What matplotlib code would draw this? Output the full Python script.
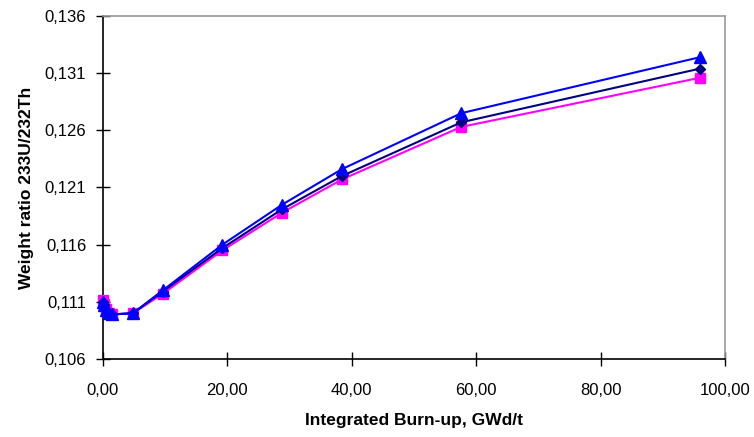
import numpy as np
import matplotlib
matplotlib.use("Agg")
import matplotlib.pyplot as plt
from matplotlib.ticker import FuncFormatter

# burn-up points, GWd/t
burnup = [0.0, 0.2, 0.5, 1.0, 1.5, 4.8, 9.6, 19.2, 28.8, 38.4, 57.6, 96.0]

# weight ratio 233U/232Th for the three cases
ratio_magenta = [0.1112, 0.1108, 0.1104, 0.1100, 0.1099, 0.1100, 0.1117, 0.1155, 0.1188, 0.1217, 0.1263, 0.1306]
ratio_navy    = [0.1110, 0.1107, 0.1103, 0.1100, 0.1099, 0.1100, 0.1119, 0.1157, 0.1191, 0.1220, 0.1267, 0.1314]
ratio_blue    = [0.1110, 0.1107, 0.1103, 0.1100, 0.1099, 0.1100, 0.1120, 0.1160, 0.1195, 0.1226, 0.1275, 0.1324]

xticks = [0, 20, 40, 60, 80, 100]
yticks = [0.106, 0.111, 0.116, 0.121, 0.126, 0.131, 0.136]

plt.rcParams['font.family'] = ['Liberation Sans', 'DejaVu Sans']

fig = plt.figure(figsize=(7.54, 4.37), dpi=100)
ax = fig.add_axes([0.1366, 0.1785, 0.8249, 0.7849])

ax.plot(burnup, ratio_magenta, color='#FF00FF', marker='s', markersize=7, lw=1.5, zorder=3)
ax.plot(burnup, ratio_navy, color='#000080', marker='D', markersize=5.5, lw=1.5, zorder=4)
ax.plot(burnup, ratio_blue, color='#0000FF', marker='^', markersize=8.5, lw=1.5, zorder=5)

ax.set_xlim(0, 100)
ax.set_ylim(0.106, 0.136)
ax.set_xticks(xticks)
ax.set_yticks(yticks)
ax.xaxis.set_major_formatter(FuncFormatter(lambda v, p: ("%.2f" % v).replace('.', ',')))
ax.yaxis.set_major_formatter(FuncFormatter(lambda v, p: ("%.3f" % v).replace('.', ',')))

ax.tick_params(direction='inout', length=10, width=1, labelsize=12, colors='black')
ax.tick_params(axis='y', pad=7)
ax.tick_params(axis='x', pad=12)
for s in ['left', 'bottom']:
    ax.spines[s].set_color('black')
    ax.spines[s].set_linewidth(1.2)
for s in ['top', 'right']:
    ax.spines[s].set_color('#999999')
    ax.spines[s].set_linewidth(1.2)

ax.set_xlabel('Integrated Burn-up, GWd/t', fontsize=12.5, fontweight='bold', labelpad=11)
ax.set_ylabel('Weight ratio 233U/232Th', fontsize=12.5, fontweight='bold', labelpad=8)

for ln in ax.lines:
    ln.set_clip_on(False)

plt.savefig('out.png', dpi=100)
